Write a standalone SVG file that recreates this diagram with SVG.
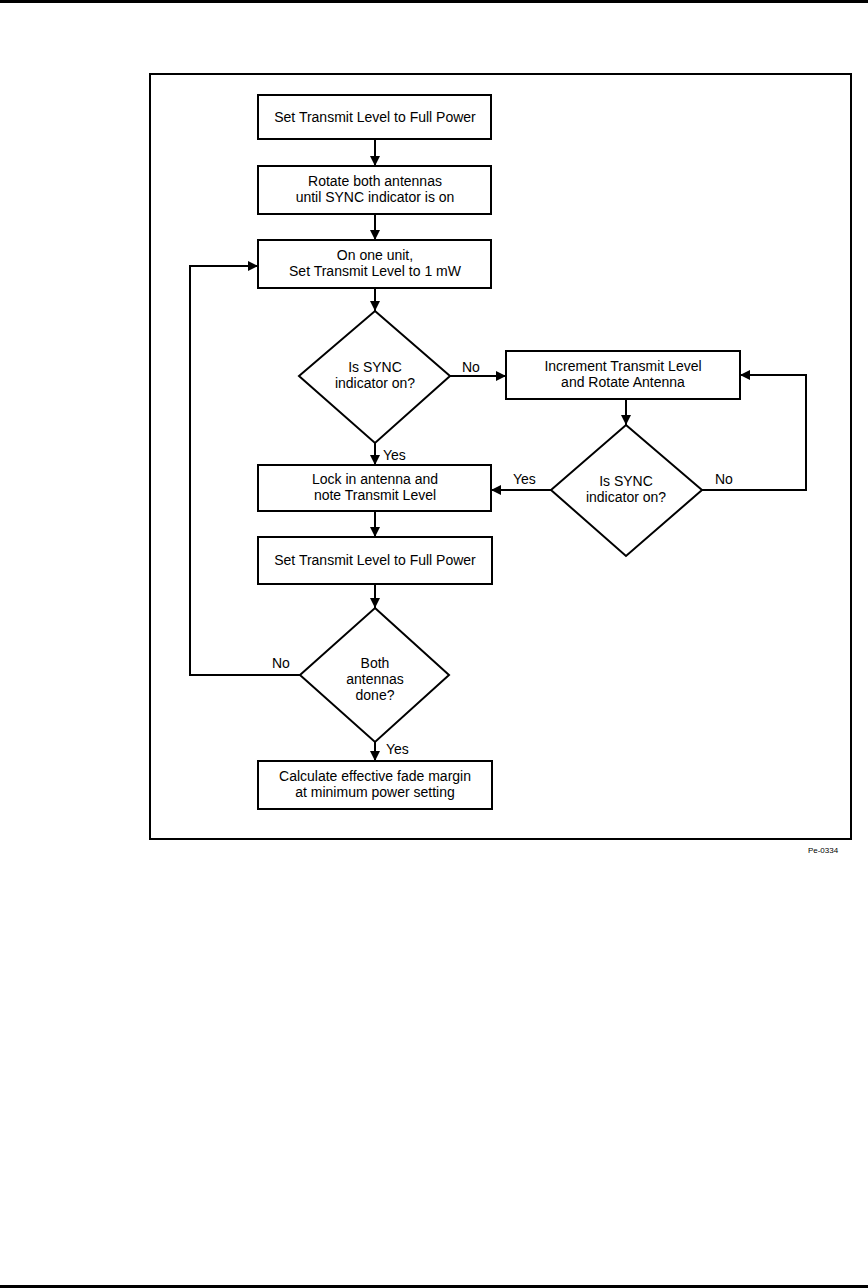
<svg xmlns="http://www.w3.org/2000/svg" width="868" height="1288" viewBox="0 0 868 1288">
<defs>
<marker id="ah" viewBox="0 0 10 10" refX="10" refY="5" markerWidth="11" markerHeight="10" markerUnits="userSpaceOnUse" orient="auto">
<path d="M0,0 L10,5 L0,10 Z" fill="#000"/>
</marker>
<style>
.s{fill:#fff;stroke:#000;stroke-width:2}
.c{fill:none;stroke:#000;stroke-width:2;marker-end:url(#ah)}
text{font-family:"Liberation Sans",Arial,sans-serif;font-size:14px;fill:#000;text-anchor:middle}
.lb{text-anchor:start}
</style>
</defs>
<rect x="0" y="0" width="868" height="3" fill="#000"/>
<rect x="0" y="1285" width="868" height="3" fill="#000"/>
<rect x="150" y="74" width="701" height="765" fill="none" stroke="#000" stroke-width="2"/>
<text x="823" y="853" style="font-size:8px">Pe-0334</text>

<g id="connectors">
<line class="c" x1="375" y1="139" x2="375" y2="166"/>
<line class="c" x1="375" y1="214" x2="375" y2="240"/>
<line class="c" x1="375" y1="288" x2="375" y2="311"/>
<line class="c" x1="450" y1="376" x2="506" y2="376"/>
<line class="c" x1="375" y1="443" x2="375" y2="465"/>
<line class="c" x1="626" y1="399" x2="626" y2="425"/>
<line class="c" x1="551" y1="490" x2="491" y2="490"/>
<polyline class="c" points="702,490 806,490 806,375 740,375"/>
<line class="c" x1="375" y1="511" x2="375" y2="537"/>
<line class="c" x1="375" y1="584" x2="375" y2="608"/>
<polyline class="c" points="300,675 190,675 190,266 258,266"/>
<line class="c" x1="375" y1="742" x2="375" y2="761"/>
<text class="lb" x="462" y="372">No</text>
<text class="lb" x="383" y="460">Yes</text>
<text class="lb" x="513" y="484">Yes</text>
<text class="lb" x="715" y="484">No</text>
<text class="lb" x="272" y="668">No</text>
<text class="lb" x="386" y="754">Yes</text>
</g>

<g id="n1">
<rect class="s" x="258" y="95" width="233" height="44"/>
<text x="375" y="122">Set Transmit Level to Full Power</text>
</g>
<g id="n2">
<rect class="s" x="258" y="166" width="233" height="48"/>
<text x="375" y="186">Rotate both antennas</text>
<text x="375" y="202">until SYNC indicator is on</text>
</g>
<g id="n3">
<rect class="s" x="258" y="240" width="233" height="48"/>
<text x="375" y="260">On one unit,</text>
<text x="375" y="276">Set Transmit Level to 1 mW</text>
</g>
<g id="d1">
<polygon class="s" points="375,311 450,376 375,443 299,376"/>
<text x="375" y="372">Is SYNC</text>
<text x="375" y="388">indicator on?</text>
</g>
<g id="n4">
<rect class="s" x="506" y="351" width="234" height="48"/>
<text x="623" y="371">Increment Transmit Level</text>
<text x="623" y="387">and Rotate Antenna</text>
</g>
<g id="d2">
<polygon class="s" points="626,425 702,490 626,556 551,490"/>
<text x="626" y="486">Is SYNC</text>
<text x="626" y="502">indicator on?</text>
</g>
<g id="n5">
<rect class="s" x="258" y="465" width="233" height="46"/>
<text x="375" y="484">Lock in antenna and</text>
<text x="375" y="500">note Transmit Level</text>
</g>
<g id="n6">
<rect class="s" x="258" y="537" width="234" height="47"/>
<text x="375" y="565">Set Transmit Level to Full Power</text>
</g>
<g id="d3">
<polygon class="s" points="375,608 449,675 375,742 300,675"/>
<text x="375" y="668">Both</text>
<text x="375" y="684">antennas</text>
<text x="375" y="700">done?</text>
</g>
<g id="n7">
<rect class="s" x="258" y="761" width="234" height="48"/>
<text x="375" y="781">Calculate effective fade margin</text>
<text x="375" y="797">at minimum power setting</text>
</g>
</svg>
